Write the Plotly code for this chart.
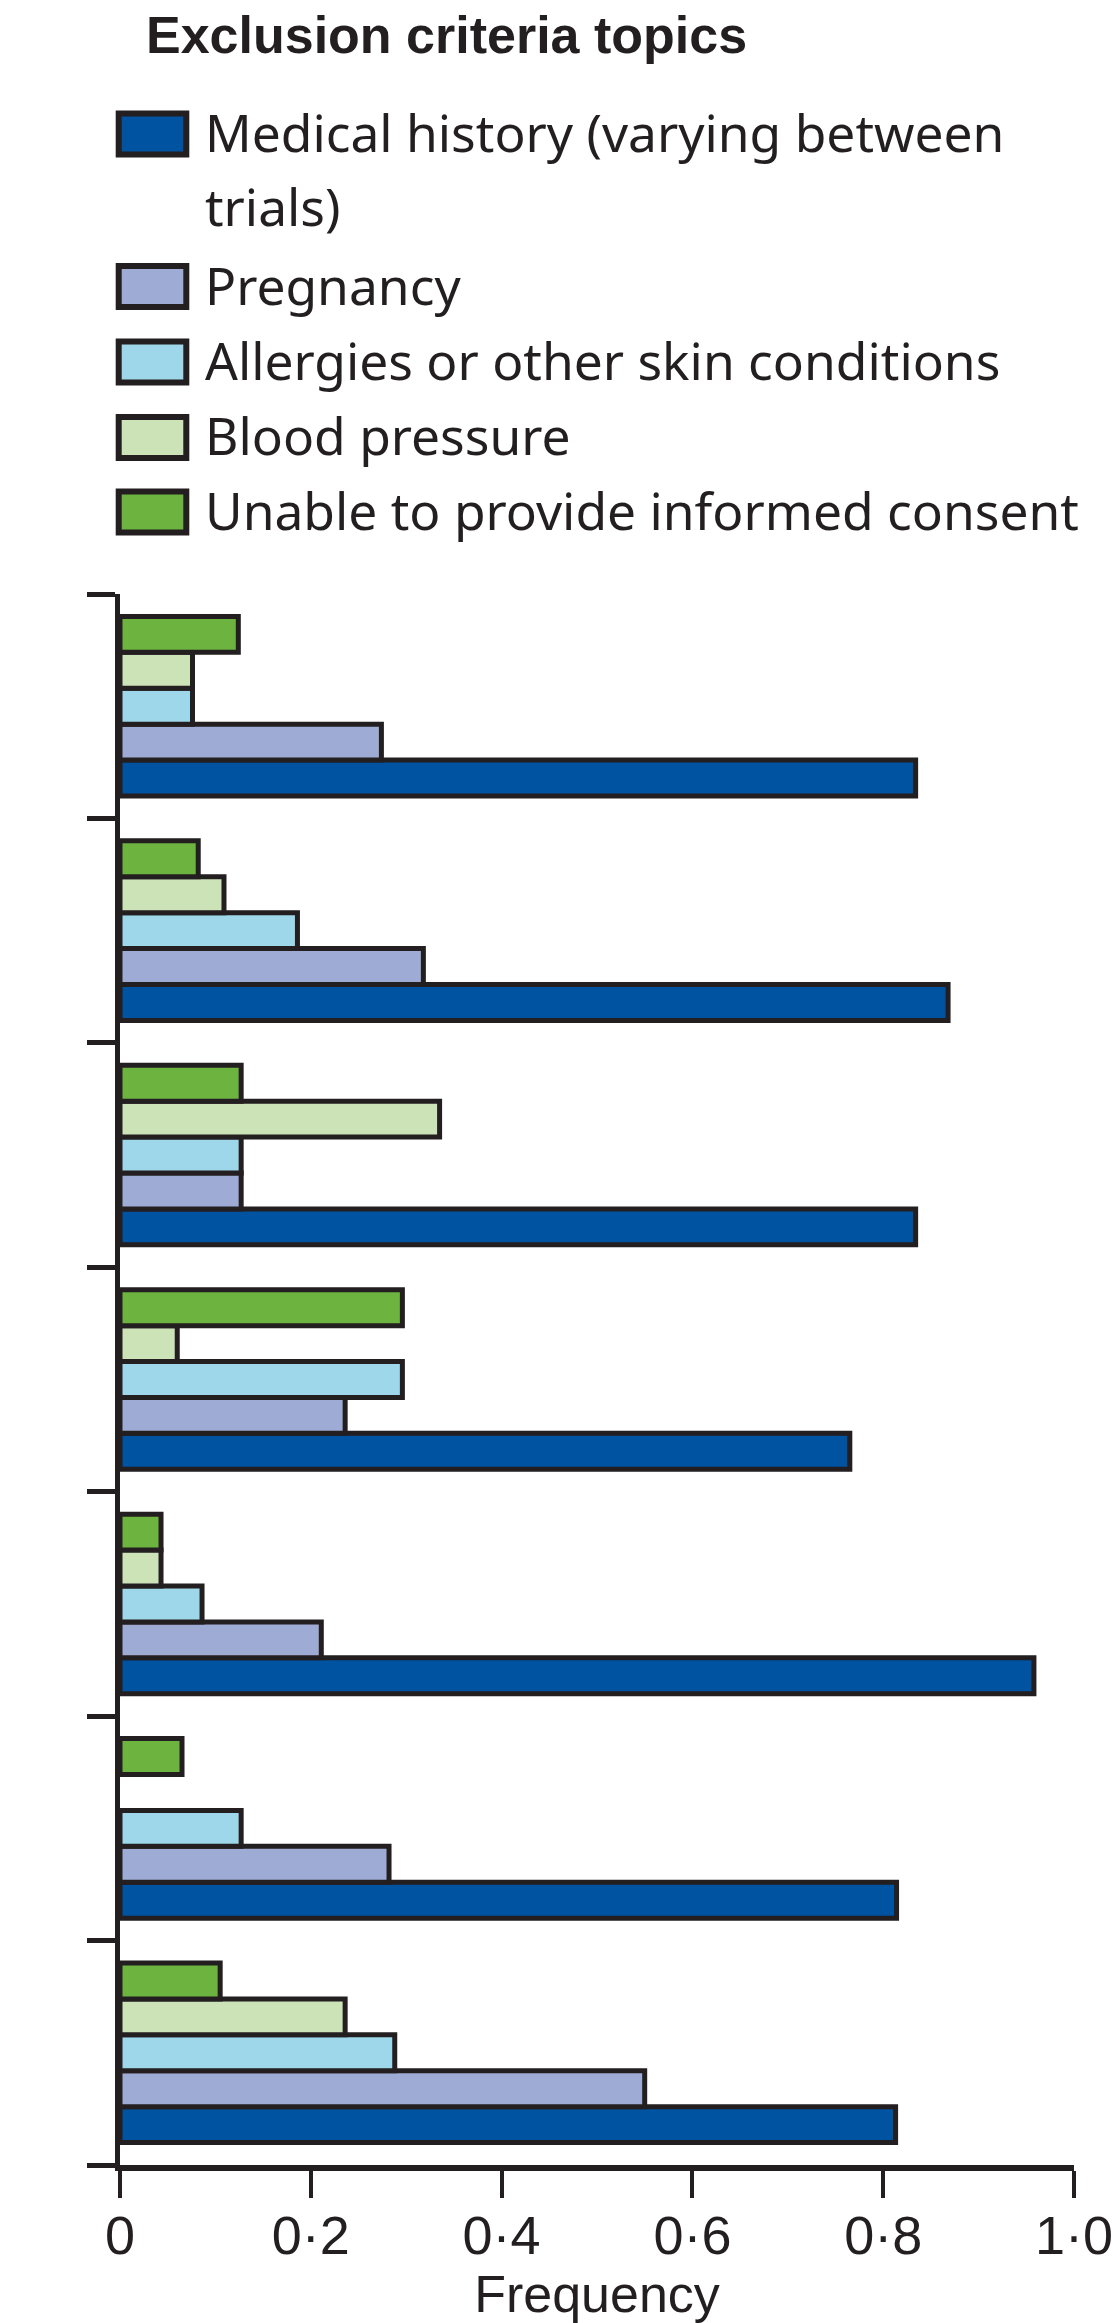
import plotly.graph_objects as go

# ---------------- data (groups listed top to bottom) ----------------
groups = ["Group 1", "Group 2", "Group 3", "Group 4", "Group 5", "Group 6", "Group 7"]
series_names = [
    "Medical history (varying between<br>trials)",
    "Pregnancy",
    "Allergies or other skin conditions",
    "Blood pressure",
    "Unable to provide informed consent",
]
medical_history = [0.834, 0.868, 0.834, 0.765, 0.958, 0.814, 0.813]
pregnancy = [0.274, 0.318, 0.127, 0.236, 0.211, 0.282, 0.550]
allergies = [0.076, 0.186, 0.127, 0.296, 0.086, 0.127, 0.288]
blood_pressure = [0.076, 0.109, 0.335, 0.060, 0.043, None, 0.236]
informed_consent = [0.124, 0.082, 0.127, 0.296, 0.043, 0.065, 0.105]
x_tickvals = [0, 0.2, 0.4, 0.6, 0.8, 1.0]
x_ticktext = ["0", "0·2", "0·4", "0·6", "0·8", "1·0"]
legend_title = "Exclusion criteria topics"
x_title = "Frequency"

# ---------------- style ----------------
colors = ["#0053a0", "#9eacd5", "#9dd7e9", "#cce3b8", "#6db33f"]
INK = "#231f20"
FONT = "Liberation Sans"
LEG_FONT = "Noto Sans"
W, H = 1112, 2323
ML, MR, MT, MB = 120, 38, 594, 158
PW, PH = W - ML - MR, H - MT - MB

series_values = [medical_history, pregnancy, allergies, blood_pressure, informed_consent]

fig = go.Figure()
for name, vals, col in zip(series_names, series_values, colors):
    fig.add_trace(go.Bar(
        orientation="h",
        y=groups,
        x=vals,
        name=name.replace("<br>", " "),
        marker=dict(color=col, line=dict(color=INK, width=5)),
        showlegend=False,
        hoverinfo="x+name",
    ))


def px_x(p):
    return (p - ML) / PW


def px_y(p):
    return (H - MB - p) / PH


# manual legend (large boxes as in the reference)
shapes = []
annotations = []
row_centers = [134, 286.5, 362, 437.5, 512]
for name, col, cy in zip(series_names, colors, row_centers):
    shapes.append(dict(
        type="rect", xref="paper", yref="paper",
        x0=px_x(118.7), x1=px_x(186.3), y0=px_y(cy - 20.5), y1=px_y(cy + 20.5),
        fillcolor=col, line=dict(color=INK, width=6), layer="above",
    ))
    for i, line in enumerate(name.split("<br>")):
        annotations.append(dict(
            xref="paper", yref="paper", x=px_x(203), y=px_y(cy - 2 + i * 73.7),
            xanchor="left", yanchor="middle", showarrow=False, text=line,
            font=dict(family=LEG_FONT, size=51.5, color=INK),
        ))

annotations.append(dict(
    xref="paper", yref="paper", x=px_x(144), y=px_y(35),
    xanchor="left", yanchor="middle", showarrow=False, text="<b>" + legend_title + "</b>",
    font=dict(family=FONT, size=52, color=INK),
))

fig.update_layout(
    width=W, height=H, autosize=False,
    margin=dict(l=ML, r=MR, t=MT, b=MB, pad=0),
    paper_bgcolor="white", plot_bgcolor="white",
    barmode="group", bargap=0.2, bargroupgap=0,
    shapes=shapes, annotations=annotations,
    font=dict(family=FONT, color=INK),
)
fig.update_xaxes(
    range=[0, 1], tickvals=x_tickvals, ticktext=x_ticktext,
    ticks="outside", ticklen=27, tickwidth=4, tickcolor=INK,
    showline=True, linewidth=6, linecolor=INK,
    showgrid=False, zeroline=False, automargin=False,
    ticklabeloverflow="allow", ticklabelstandoff=-9,
    tickfont=dict(family=FONT, size=54, color=INK),
    title=dict(text=x_title, font=dict(family=FONT, size=52, color=INK), standoff=4),
)
fig.update_yaxes(
    type="category", categoryorder="array", categoryarray=groups[::-1],
    tickson="boundaries", ticks="outside", ticklen=28, tickwidth=5, tickcolor=INK,
    showticklabels=False, showline=True, linewidth=5, linecolor=INK,
    showgrid=False, zeroline=False, automargin=False,
)

fig.write_html(
    "out.html",
    config={"displayModeBar": False},
    post_script="document.body.style.margin='0';document.body.style.overflow='hidden';",
)
